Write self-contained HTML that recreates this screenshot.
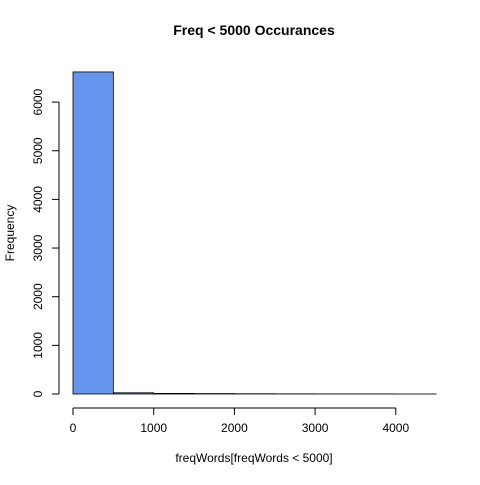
<!DOCTYPE html>
<html><head><meta charset="utf-8"><style>
html,body{margin:0;padding:0;background:#fff}
text{font-family:"Liberation Sans",Arial,sans-serif}
</style></head><body>
<svg id="chart" width="480" height="480" viewBox="0 0 480 480">
<text x="254" y="35" text-anchor="middle" font-size="14" font-weight="bold">Freq &lt; 5000 Occurances</text>
<text x="254" y="462" text-anchor="middle" font-size="12">freqWords[freqWords &lt; 5000]</text>
<text x="14" y="233" text-anchor="middle" font-size="12" transform="rotate(-90 14 233)">Frequency</text>
<g id="bars"></g><g id="xaxis"></g><g id="yaxis"></g>
</svg>
<script>
const binStarts = [0,500,1000,1500,2000,2500,3000,3500,4000];
const binWidth = 500;
const counts = [6620,25,12,8,5,3,2,2,1];
const xTicks = [0,1000,2000,3000,4000];
const yTicks = [0,1000,2000,3000,4000,5000,6000];
const NS="http://www.w3.org/2000/svg";
const xs=v=>73+v*0.0807;
const ys=v=>394-v*0.04865;
function mk(t,a,p){const e=document.createElementNS(NS,t);for(const k in a)e.setAttribute(k,a[k]);p.appendChild(e);return e;}
const bars=document.getElementById('bars');
binStarts.forEach((b,i)=>{
 const r=mk('rect',{x:xs(b),y:ys(counts[i]),width:xs(b+binWidth)-xs(b),height:ys(0)-ys(counts[i]),fill:'#6495ED',stroke:'#000','stroke-width':0.8},bars);
 
 
});
const xa=document.getElementById('xaxis');
const xl=mk('line',{x1:xs(xTicks[0]),x2:xs(xTicks[xTicks.length-1]),y1:408,y2:408,stroke:'#000'},xa);


xTicks.forEach(t=>{
 mk('line',{x1:xs(t),x2:xs(t),y1:408,y2:415,stroke:'#000'},xa);
 const tx=mk('text',{x:xs(t),y:432,'text-anchor':'middle','font-size':12},xa);tx.textContent=t;
 
 
});
const ya=document.getElementById('yaxis');
const yl=mk('line',{x1:59,x2:59,y1:ys(yTicks[0]),y2:ys(yTicks[yTicks.length-1]),stroke:'#000'},ya);


yTicks.forEach(t=>{
 mk('line',{x1:52,x2:59,y1:ys(t),y2:ys(t),stroke:'#000'},ya);
 const tx=mk('text',{x:42,y:ys(t),'text-anchor':'middle','font-size':12,transform:`rotate(-90 42 ${ys(t)})`},ya);tx.textContent=t;
 
 
});
</script>
</body></html>
